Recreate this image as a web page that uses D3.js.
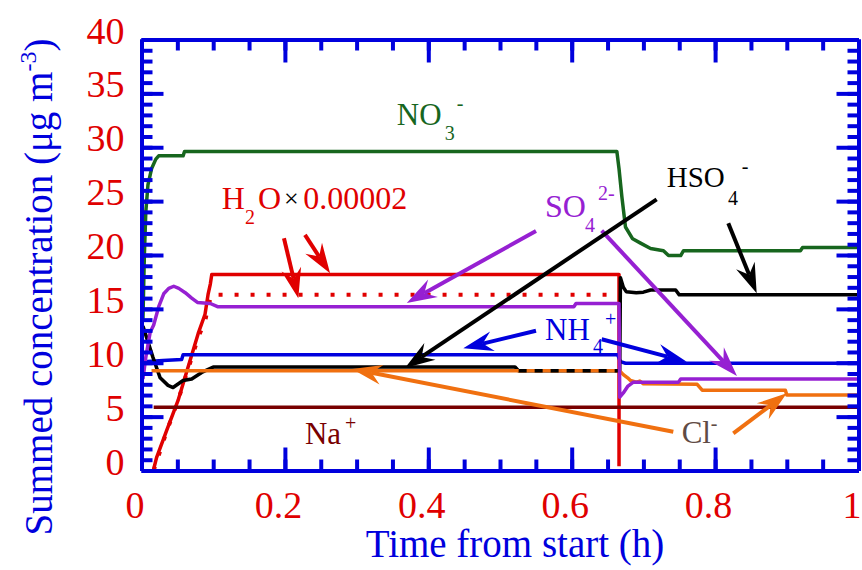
<!DOCTYPE html>
<html>
<head>
<meta charset="utf-8">
<script src="https://cdn.jsdelivr.net/npm/d3@7"></script>
<style>
  body { margin: 0; background: #fff; }
  svg { display: block; font-family: "Liberation Serif", "Times New Roman", serif; }
</style>
</head>
<body>
<svg id="chart"></svg>
<script>
// tick labels
const xTicks = [0, 0.2, 0.4, 0.6, 0.8, 1];
const yTicks = [0, 5, 10, 15, 20, 25, 30, 35, 40];

// series: [time (h), concentration (ug m-3)]
const no3 = [[0.002, 14], [0.004, 20], [0.006, 24], [0.009, 26.5], [0.014, 28], [0.02, 28.9], [0.024, 29.2],
  [0.058, 29.2], [0.06, 29.6], [0.663, 29.6], [0.666, 28], [0.67, 25.4], [0.675, 22.6], [0.685, 21.5],
  [0.696, 21.1], [0.71, 20.6], [0.728, 20.4], [0.735, 19.95], [0.752, 19.95], [0.756, 20.4], [0.919, 20.4],
  [0.922, 20.7], [1, 20.7]];
const h2o = [[0.0165, 0], [0.021, 1.2], [0.035, 3.7], [0.051, 6.5], [0.065, 9.6], [0.079, 12.7], [0.0886, 14.5],
  [0.093, 16.4], [0.096, 17.3], [0.098, 18.2], [0.666, 18.2], [0.666, 0.4]];
const h2oDotted = [[0.017, 0], [0.035, 3.6], [0.05, 6.3], [0.065, 9.4], [0.08, 12.5], [0.089, 13.9], [0.093, 15.3],
  [0.098, 16.3], [0.667, 16.3]];
const so4 = [[0.002, 8.5], [0.006, 10.5], [0.012, 12.8], [0.017, 13.5], [0.024, 15.2], [0.031, 16.4], [0.038, 16.9],
  [0.045, 17.1], [0.052, 16.9], [0.061, 16.5], [0.07, 16], [0.078, 15.6], [0.096, 15.5], [0.106, 15.2],
  [0.603, 15.2], [0.606, 15.5], [0.666, 15.5], [0.667, 6.8], [0.672, 7.2], [0.678, 7.8], [0.686, 8.2],
  [0.749, 8.2], [0.752, 8.5], [1, 8.5]];
const hso4 = [[0.002, 13.4], [0.016, 10.5], [0.026, 8.6], [0.037, 7.9], [0.044, 7.7], [0.058, 8.35], [0.07, 8.5],
  [0.084, 9.1], [0.1, 9.6], [0.521, 9.6], [0.526, 9.25], [0.667, 9.25], [0.668, 17.9], [0.672, 17],
  [0.676, 16.6], [0.69, 16.5], [0.7, 16.55], [0.71, 16.75], [0.745, 16.75], [0.75, 16.3], [1, 16.3]];
const nh4 = [[0.003, 10.1], [0.03, 10.2], [0.056, 10.3], [0.058, 10.75], [0.664, 10.75], [0.668, 10.1],
  [0.675, 9.95], [1, 9.95]];
const cl = [[0.014, 9.25], [0.667, 9.25], [0.672, 8.9], [0.678, 8.6], [0.682, 8.35], [0.69, 8.2], [0.695, 8.3],
  [0.7, 8.05], [0.775, 8], [0.782, 7.45], [0.898, 7.45], [0.9, 7], [1, 7]];
const na = [[0.017, 5.87], [1, 5.87]];

const blue = "#0000dd", red = "#e00000", green = "#17661e", purple = "#9620d2",
  orange = "#f07010", darkred = "#780000", brown = "#5f4b45";

const w = 862, h = 570;
const svg = d3.select("#chart").attr("width", w).attr("height", h);

const x = d3.scaleLinear().domain([0, 1]).range([141.5, 858.5]);
const y = d3.scaleLinear().domain([0, 40]).range([470.5, 39.5]);

svg.append("clipPath").attr("id", "clip")
  .append("rect").attr("x", x(0)).attr("y", y(40)).attr("width", x(1) - x(0)).attr("height", y(0) - y(40));

const line = d3.line().x((d) => x(d[0])).y((d) => y(d[1]));
const plot = svg.append("g").attr("clip-path", "url(#clip)");

function drawLine(data, color, dash, width) {
  plot.append("path")
    .datum(data)
    .attr("d", line)
    .attr("fill", "none")
    .attr("stroke", color)
    .attr("stroke-width", width || 3.5)
    .attr("stroke-dasharray", dash || null)
    .attr("stroke-linejoin", "round");
}

drawLine(no3, green);
drawLine(h2o, red);
drawLine(h2oDotted, red, "4,12", 4);
drawLine(nh4, blue);
drawLine(hso4, "#000");
drawLine(cl, orange);
// black dashes where HSO4- sits on Cl-
drawLine(hso4.filter((d) => d[0] >= 0.526 && d[0] <= 0.667), "#000", "8,8");
drawLine(so4, purple);
drawLine(na, darkred);

// arrows (data coordinates)
const arrows = [
  { c: red, from: [0.1987, 21.55], to: [0.2187, 15.98] },
  { c: red, from: [0.228, 21.86], to: [0.263, 18.3] },
  { c: purple, from: [0.5502, 22.23], to: [0.37, 15.55] },
  { c: purple, from: [0.6418, 22.26], to: [0.8305, 8.77] },
  { c: "#000", from: [0.7185, 25.17], to: [0.3675, 9.51] },
  { c: "#000", from: [0.8184, 22.94], to: [0.858, 16.45] },
  { c: blue, from: [0.5502, 12.97], to: [0.4488, 11.34] },
  { c: blue, from: [0.6418, 12.18], to: [0.7604, 10.1] },
  { c: orange, from: [0.7417, 3.6], to: [0.2936, 9.42] },
  { c: orange, from: [0.8254, 3.45], to: [0.8999, 7.16] }
];

arrows.forEach((a) => {
  const x0 = x(a.from[0]), y0 = y(a.from[1]), x1 = x(a.to[0]), y1 = y(a.to[1]);
  const len = Math.hypot(x1 - x0, y1 - y0);
  const ux = (x1 - x0) / len, uy = (y1 - y0) / len;
  const L = 30, W = 10, N = 20;
  svg.append("line")
    .attr("x1", x0).attr("y1", y0)
    .attr("x2", x1 - ux * N).attr("y2", y1 - uy * N)
    .attr("stroke", a.c).attr("stroke-width", 4);
  const pts = [
    [x1, y1],
    [x1 - ux * L - uy * W, y1 - uy * L + ux * W],
    [x1 - ux * N, y1 - uy * N],
    [x1 - ux * L + uy * W, y1 - uy * L - ux * W]
  ];
  svg.append("polygon").attr("points", pts.map((p) => p.join(",")).join(" ")).attr("fill", a.c);
});

// labels: anchor in data coords, parts [text, dx, dy, size, fill]
const labels = [
  { at: [0.356, 32.06], c: green, parts: [["NO", 0, 0, 31], ["3", 48, 15, 20], ["-", 60, -15, 20]] },
  { at: [0.1119, 24.27], c: red, parts: [["H", 0, 0, 32], ["2", 23.3, 15, 20], ["O", 36.3, 0, 32],
    ["\u00d7", 62.3, -2, 26, "#000"], ["0.00002", 81.6, 0, 32]] },
  { at: [0.5628, 23.55], c: purple, parts: [["SO", 0, 0, 32], ["4", 40, 15, 20], ["2-", 53, -16.7, 20]] },
  { at: [0.7325, 26.34], c: "#000", parts: [["HSO", 0, 0, 29], ["4", 61.3, 18.3, 20], ["-", 75, -13.7, 20]] },
  { at: [0.5628, 12.11], c: blue, parts: [["NH", 0, 0, 31], ["4", 48, 13, 20], ["+", 60, -14.3, 20]] },
  { at: [0.228, 2.46], c: darkred, parts: [["Na", 0, 0, 31], ["+", 40, -14, 20]] },
  { at: [0.7534, 2.52], c: brown, parts: [["Cl", 0, 0, 31], ["-", 29, -13, 20]] }
];

labels.forEach((l) => {
  const ax = x(l.at[0]), ay = y(l.at[1]);
  const t = svg.append("text").attr("fill", l.c);
  l.parts.forEach((p) => {
    t.append("tspan")
      .attr("x", ax + p[1]).attr("y", ay + p[2])
      .attr("font-size", p[3])
      .attr("fill", p[4] || null)
      .text(p[0]);
  });
});

// axes
function styleAxis(g) {
  g.attr("font-family", null).attr("font-size", 38);
  g.select(".domain").attr("stroke", blue).attr("stroke-width", 4);
  g.selectAll(".tick line").attr("stroke", blue).attr("stroke-width", 4);
  g.selectAll(".tick text").attr("fill", red);
}

const xMinor = d3.range(0, 1.0001, 0.05);
const yMinor = d3.range(0, 40.001, 1);

svg.append("g").attr("transform", `translate(0,${y(0)})`)
  .call(d3.axisBottom(x).tickValues(xMinor).tickSize(-11).tickSizeOuter(0).tickFormat(""))
  .call(styleAxis);
svg.append("g").attr("transform", `translate(0,${y(40)})`)
  .call(d3.axisTop(x).tickValues(xMinor).tickSize(-11).tickSizeOuter(0).tickFormat(""))
  .call(styleAxis);
svg.append("g").attr("transform", `translate(${x(0)},0)`)
  .call(d3.axisLeft(y).tickValues(yMinor).tickSize(-11).tickSizeOuter(0).tickFormat(""))
  .call(styleAxis);
svg.append("g").attr("transform", `translate(${x(1)},0)`)
  .call(d3.axisRight(y).tickValues(yMinor).tickSize(-11).tickSizeOuter(0).tickFormat(""))
  .call(styleAxis);

svg.append("g").attr("transform", `translate(0,${y(0)})`)
  .call(d3.axisBottom(x).tickValues(xTicks).tickSize(-23).tickSizeOuter(0).tickFormat(d3.format("~g")))
  .call(styleAxis)
  .call((g) => g.selectAll(".tick text").attr("dy", null).attr("y", 47).attr("x", -7));
svg.append("g").attr("transform", `translate(0,${y(40)})`)
  .call(d3.axisTop(x).tickValues(xTicks).tickSize(-23).tickSizeOuter(0).tickFormat(""))
  .call(styleAxis);
svg.append("g").attr("transform", `translate(${x(0)},0)`)
  .call(d3.axisLeft(y).tickValues(yTicks).tickSize(-22).tickSizeOuter(0))
  .call(styleAxis)
  .call((g) => g.selectAll(".tick text").attr("dy", null).attr("y", 3.5).attr("x", -17));
svg.append("g").attr("transform", `translate(${x(1)},0)`)
  .call(d3.axisRight(y).tickValues(yTicks).tickSize(-22).tickSizeOuter(0).tickFormat(""))
  .call(styleAxis);

// axis titles
svg.append("text")
  .attr("x", 515).attr("y", 557)
  .attr("text-anchor", "middle")
  .attr("font-size", 39)
  .attr("fill", blue)
  .text("Time from start (h)");

const yTitle = svg.append("text")
  .attr("transform", "translate(52,287) rotate(-90)")
  .attr("text-anchor", "middle")
  .attr("font-size", 39)
  .attr("fill", blue);
yTitle.append("tspan").text("Summed concentration (\u03bcg m");
yTitle.append("tspan").attr("dy", -16).attr("font-size", 24).text("-3");
yTitle.append("tspan").attr("dy", 16).text(")");
</script>
</body>
</html>
